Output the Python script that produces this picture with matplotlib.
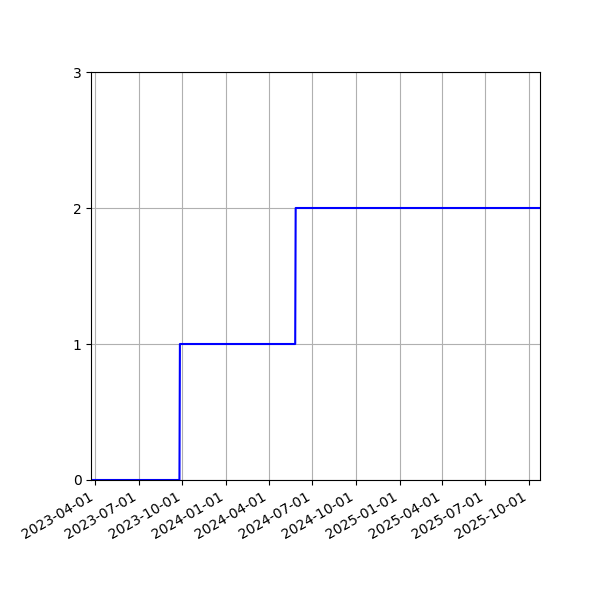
import numpy as np
import matplotlib
matplotlib.use('Agg')
import matplotlib.pyplot as plt
import matplotlib.dates as mdates
from datetime import datetime

# cumulative count, sampled on the days around each change
dates = ['2023-03-23', '2023-09-25', '2023-09-26', '2024-05-26', '2024-05-27', '2025-10-24']
counts = [0, 0, 1, 1, 2, 2]
yticks = [0, 1, 2, 3]

x = [datetime.strptime(d, '%Y-%m-%d') for d in dates]

fig, ax = plt.subplots(figsize=(6, 6), dpi=100)
ax.plot(x, counts, color='b', lw=1.5)

ax.set_xlim(x[0], x[-1])
ax.set_ylim(0, 3)
ax.set_yticks(yticks)
ax.xaxis.set_major_locator(mdates.MonthLocator(bymonth=[1, 4, 7, 10]))
ax.xaxis.set_major_formatter(mdates.DateFormatter('%Y-%m-%d'))
ax.grid(True)

fig.autofmt_xdate()
fig.subplots_adjust(left=0.152, right=0.9, top=0.88, bottom=0.2)

plt.savefig('out.png', dpi=100)
